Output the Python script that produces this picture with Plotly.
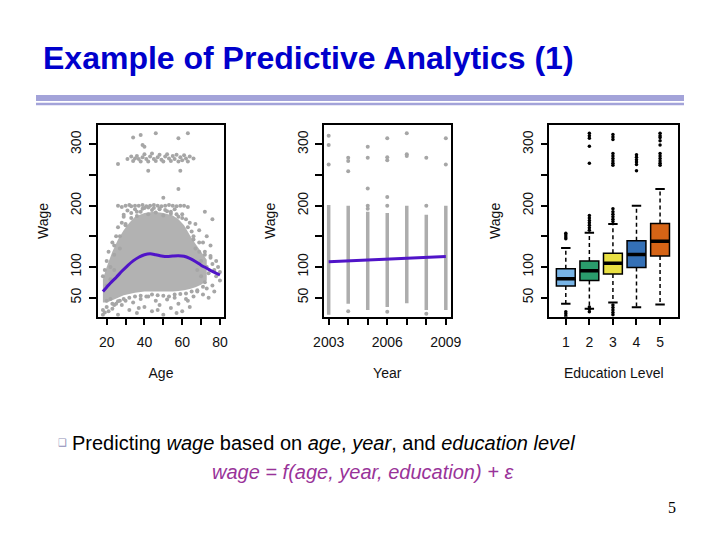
import plotly.graph_objects as go

W, H = 720, 540
def px(x): return x / W
def py(y): return 1 - y / H

# ---------------- data ----------------
# Panel 1: wage vs age
core_age = [18, 20, 23, 26, 29, 32, 35, 40, 45, 50, 55, 58, 61, 64, 67, 70, 73]
core_hi = [80, 100, 125, 145, 160, 172, 182, 188, 190, 188, 184, 178, 168, 152, 138, 125, 112]
core_lo = [42, 42, 46, 50, 54, 56, 58, 60, 60, 60, 60, 61, 62, 64, 67, 71, 78]

age_pts = [26, 31, 33, 34, 35, 36, 37, 38, 39, 40, 41, 42, 43, 44, 45, 46, 47, 48, 49, 50,
           51, 52, 53, 54, 55, 56, 57, 58, 59, 60, 61, 62, 63, 64, 66,
           34, 38, 39, 40, 46, 58, 63,
           42, 59, 58, 50,
           26, 28, 30, 32, 33, 35, 37, 39, 41, 43, 45, 47, 49, 51, 53, 55, 57, 59, 61, 63,
           29, 31, 33, 35, 36, 38, 40, 42, 44, 46, 48, 50, 52, 54, 56, 58, 60, 62, 64, 72, 76,
           65, 66, 67, 68, 68, 69, 70, 70, 71, 71, 72, 72, 73, 73, 74, 74, 75, 75, 76, 76,
           77, 77, 78, 78, 79, 80, 80, 67, 69, 73,
           18, 18, 19, 20, 21, 22, 23, 24, 25, 26, 27, 28, 30, 32, 34, 36, 37, 38, 40, 42,
           44, 46, 47, 48, 50, 52, 54, 56, 57, 58, 60, 62, 64, 66, 63,
           18, 19, 20, 21, 22, 23, 24, 24, 25, 26, 27, 28, 29, 30, 20, 22,
           24, 27, 30, 33, 36, 39, 42, 45, 48, 51, 54, 57, 60, 63, 66, 69, 72, 75,
           20, 23, 26, 29, 32, 35, 38, 41, 44, 47, 50, 53, 56, 59, 62, 65, 68, 71]
wage_pts = [268, 276, 280, 273, 277, 281, 276, 272, 279, 284, 276, 272, 280, 285, 276, 273, 279, 283, 275, 272,
            280, 284, 277, 273, 281, 276, 283, 272, 279, 274, 282, 277, 272, 280, 277,
            311, 315, 299, 296, 318, 310, 318,
            257, 257, 227, 213,
            200, 198, 200, 201, 199, 200, 200, 201, 199, 200, 201, 200, 199, 200, 201, 200, 199, 200, 200, 198,
            185, 192, 188, 194, 183, 190, 196, 186, 193, 189, 195, 184, 191, 187, 194, 182, 186, 178, 172, 190, 178,
            158, 145, 130, 95, 60, 160, 110, 85, 140, 55, 120, 75, 100, 65, 90, 50, 135, 115, 105, 70,
            95, 60, 85, 110, 100, 92, 78, 170, 125, 150,
            30, 22, 26, 35, 28, 48, 32, 38, 40, 22, 45, 38, 45, 30, 42, 25, 33, 48, 35, 52,
            28, 45, 30, 38, 22, 47, 33, 50, 25, 40, 28, 48, 35, 52, 45,
            85, 95, 110, 125, 100, 140, 120, 95, 150, 165, 130, 172, 182, 170, 70, 80,
            135, 150, 168, 180, 190, 195, 197, 196, 194, 193, 190, 186, 180, 165, 150, 140, 125, 118,
            45, 40, 44, 48, 50, 52, 53, 52, 55, 54, 53, 52, 55, 56, 57, 60, 62, 68]

curve_age = [18, 20, 22, 25, 28, 31, 34, 37, 40, 43, 46, 49, 52, 55, 58, 61, 64, 67, 70, 73, 76, 80]
curve_wage = [60, 67, 74, 83, 93, 102, 110, 116, 120, 121.5, 120, 118, 117, 118, 118.5, 117.5, 114, 109, 103, 98, 93, 87]

# Panel 2: wage vs year
years = [2003, 2004, 2005, 2006, 2007, 2008, 2009]
strip_low = [22, 40, 30, 35, 41, 30, 30]
strip_high = [201, 200, 190, 188, 200, 185, 200]
year_pts_x = [2003, 2003, 2003, 2004, 2004, 2004, 2004, 2005, 2005, 2005, 2005, 2005,
              2006, 2006, 2006, 2006, 2006, 2006, 2007, 2007, 2007, 2008, 2008, 2008, 2009, 2009]
year_pts_y = [314, 299, 267, 278, 273, 256, 28, 296, 278, 228, 200, 195,
              310, 279, 274, 214, 200, 27, 318, 284, 281, 278, 200, 24, 310, 267]
year_fit = [108.5, 110, 111.5, 112.5, 114, 115.5, 117]

# Panel 3: wage by education level
levels = [1, 2, 3, 4, 5]
q1 = [69, 78, 88.5, 99, 118]
med = [81, 94, 106, 120.5, 142]
q3 = [97, 110, 122.5, 143, 171]
whisk_lo = [40, 32, 42, 34.5, 39]
whisk_hi = [131, 156, 170, 200, 227]
box_colors = ["#78b4e6", "#2a9c6c", "#e9e043", "#3470b6", "#d66416"]
outliers = {
    1: [155, 152, 149, 146, 27, 24, 20],
    2: [318, 314, 310, 297, 269, 184, 180, 176, 172, 168, 164, 160, 35, 31, 27],
    3: [316, 312, 308, 285, 281, 277, 273, 269, 266, 195, 190, 186, 182, 178, 174, 38, 34, 30, 26, 22],
    4: [283, 279, 275, 271, 267, 257],
    5: [318, 314, 311, 306, 299, 285, 281, 277, 273, 269, 266],
}

# ---------------- figure ----------------
GRAY_PT = "#a6a6a6"
PURPLE = "#5014c8"
FONT = "Liberation Sans, Arial, sans-serif"

fig = go.Figure()

# Panel 1
fig.add_trace(go.Scatter(x=core_age + core_age[::-1], y=core_hi + core_lo[::-1],
                         fill="toself", fillcolor="#b2b2b2", mode="none",
                         xaxis="x", yaxis="y", hoverinfo="skip"))
fig.add_trace(go.Scatter(x=age_pts, y=wage_pts, mode="markers",
                         marker=dict(color=GRAY_PT, size=4, line=dict(width=0)),
                         xaxis="x", yaxis="y"))
fig.add_trace(go.Scatter(x=curve_age, y=curve_wage, mode="lines", line=dict(color=PURPLE, width=3, shape="spline"),
                         xaxis="x", yaxis="y"))

# Panel 2
sx, sy = [], []
for yr, lo, hi in zip(years, strip_low, strip_high):
    sx += [yr, yr, None]
    sy += [lo, hi, None]
fig.add_trace(go.Scatter(x=sx, y=sy, mode="lines", line=dict(color="#adadad", width=3.5),
                         xaxis="x2", yaxis="y2"))
fig.add_trace(go.Scatter(x=year_pts_x, y=year_pts_y, mode="markers",
                         marker=dict(color=GRAY_PT, size=4, line=dict(width=0)),
                         xaxis="x2", yaxis="y2"))
fig.add_trace(go.Scatter(x=years, y=year_fit, mode="lines", line=dict(color=PURPLE, width=3),
                         xaxis="x2", yaxis="y2"))

# Panel 3
for lv, a, m, b, c in zip(levels, q1, med, q3, box_colors):
    fig.add_trace(go.Box(x=[lv], q1=[a], median=[m], q3=[b], lowerfence=[a], upperfence=[b],
                         fillcolor=c, line=dict(color="black", width=1.5), width=0.8,
                         whiskerwidth=0, boxpoints=False, xaxis="x3", yaxis="y3"))
wx, wy, cx, cy, mx, my = [], [], [], [], [], []
for lv, a, m, b, lo, hi in zip(levels, q1, med, q3, whisk_lo, whisk_hi):
    wx += [lv, lv, None, lv, lv, None]
    wy += [b, hi, None, a, lo, None]
    cx += [lv - 0.2, lv + 0.2, None, lv - 0.2, lv + 0.2, None]
    cy += [hi, hi, None, lo, lo, None]
    mx += [lv - 0.4, lv + 0.4, None]
    my += [m, m, None]
fig.add_trace(go.Scatter(x=wx, y=wy, mode="lines", line=dict(color="black", width=1.5, dash="4px,3px"),
                         xaxis="x3", yaxis="y3"))
fig.add_trace(go.Scatter(x=cx, y=cy, mode="lines", line=dict(color="black", width=2),
                         xaxis="x3", yaxis="y3"))
fig.add_trace(go.Scatter(x=mx, y=my, mode="lines", line=dict(color="black", width=3.5),
                         xaxis="x3", yaxis="y3"))
ox, oy = [], []
for lv in levels:
    ox += [lv] * len(outliers[lv])
    oy += outliers[lv]
fig.add_trace(go.Scatter(x=ox, y=oy, mode="markers", marker=dict(color="black", size=3.5),
                         xaxis="x3", yaxis="y3"))

# Axes
ydom = [py(316.7), py(125)]
tickfont = dict(family=FONT, size=14, color="#111")
titlefont = dict(family=FONT, size=14, color="#111")
common = dict(showline=True, mirror=True, linecolor="black", linewidth=1.5, ticks="outside",
              ticklen=7, tickwidth=1.5, tickcolor="black", showgrid=False, zeroline=False,
              tickfont=tickfont, automargin=False)
yvals = [50, 100, 150, 200, 250, 300]
ytext = ["50", "100", "", "200", "", "300"]

def yaxis_cfg(anchor):
    return dict(domain=ydom, range=[19, 331.5], tickvals=yvals, ticktext=ytext, tickangle=-90,
                anchor=anchor, ticklabelstandoff=2,
                title=dict(text="Wage", font=titlefont, standoff=16), **common)

fig.update_layout(
    width=W, height=H, margin=dict(l=0, r=0, t=0, b=0, pad=0, autoexpand=False),
    paper_bgcolor="white", plot_bgcolor="white", showlegend=False,
    xaxis=dict(domain=[px(97.7), px(224.3)], range=[15.24, 82.3], anchor="y",
               tickvals=[20, 30, 40, 50, 60, 70, 80], ticktext=["20", "", "40", "", "60", "", "80"],
               ticklabelstandoff=5,
               title=dict(text="Age", font=titlefont, standoff=19), **common),
    yaxis=yaxis_cfg("x"),
    xaxis2=dict(domain=[px(324), px(450.5)], range=[2002.76, 2009.24], anchor="y2",
                tickvals=years, ticktext=["2003", "", "", "2006", "", "", "2009"],
                ticklabelstandoff=5,
                title=dict(text="Year", font=titlefont, standoff=19), **common),
    yaxis2=yaxis_cfg("x2"),
    xaxis3=dict(domain=[px(549.3), px(678.2)], range=[0.3, 5.77], anchor="y3",
                tickvals=levels, ticktext=[str(v) for v in levels],
                ticklabelstandoff=5,
                title=dict(text="Education Level", font=titlefont, standoff=19), **common),
    yaxis3=yaxis_cfg("x3"),
)

# Slide decorations
fig.add_shape(type="line", xref="paper", yref="paper", x0=px(36), x1=px(684), y0=py(98), y1=py(98),
              line=dict(color="#a3a3d9", width=6))
fig.add_shape(type="line", xref="paper", yref="paper", x0=px(36), x1=px(684), y0=py(104), y1=py(104),
              line=dict(color="#a3a3d9", width=2.5))

fig.add_annotation(text="<b>Example of Predictive Analytics (1)</b>", x=px(41), y=py(58),
                   xref="paper", yref="paper", xanchor="left", yanchor="middle", showarrow=False,
                   font=dict(family=FONT, size=32, color="#0000cc"))
fig.add_annotation(text="❑", x=px(62), y=py(442), xref="paper", yref="paper",
                   xanchor="center", yanchor="middle", showarrow=False,
                   font=dict(family="DejaVu Sans", size=10, color="#8f8fb8"))
fig.add_annotation(text="Predicting <i>wage</i> based on <i>age</i>, <i>year</i>, and <i>education level</i>",
                   x=px(70), y=py(443), xref="paper", yref="paper", xanchor="left", yanchor="middle",
                   showarrow=False, font=dict(family=FONT, size=20, color="black"))
fig.add_annotation(text="<i>wage = f(age, year, education) + ε</i>",
                   x=px(210), y=py(472), xref="paper", yref="paper", xanchor="left", yanchor="middle",
                   showarrow=False, font=dict(family=FONT, size=20, color="#993399"))
fig.add_annotation(text="5", x=px(672), y=py(507), xref="paper", yref="paper",
                   xanchor="center", yanchor="middle", showarrow=False,
                   font=dict(family="Liberation Serif, Times New Roman, serif", size=16, color="black"))

fig.write_html("out.html", config={"displayModeBar": False},
               post_script="document.body.style.margin='0';document.body.style.overflow='hidden';")
